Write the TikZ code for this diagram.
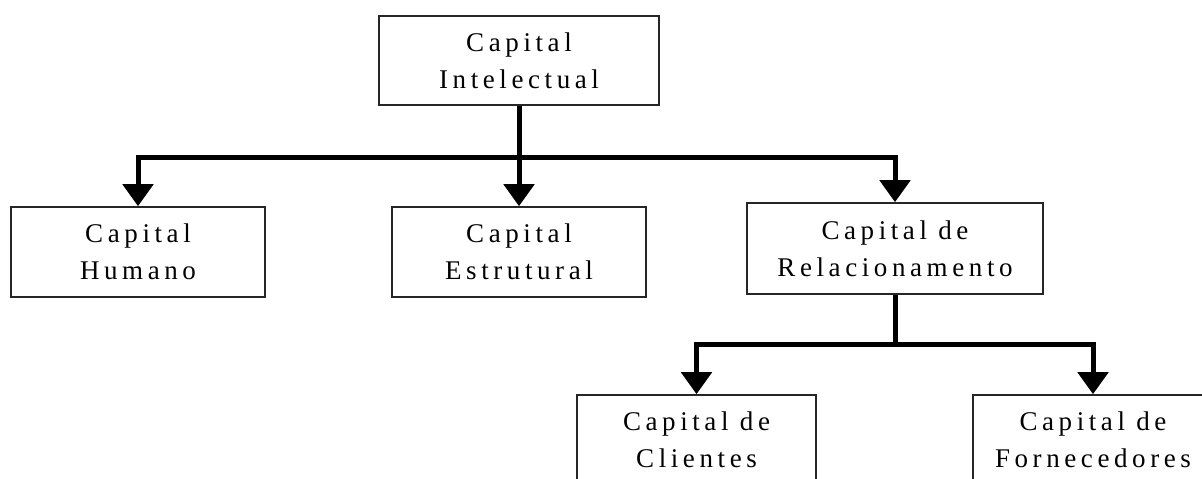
\documentclass[tikz,border=0pt]{standalone}
\usepackage{fontspec}
\setmainfont{Liberation Serif}[LetterSpace=17]
\usetikzlibrary{arrows.meta}
\begin{document}
\begin{tikzpicture}[x=1pt,y=-1pt,
  box/.style={draw=black!85, line width=1.6pt, inner sep=0pt, align=center,
    font=\fontsize{27}{37}\selectfont},
  bus/.style={line width=5pt, line join=miter},
  arr/.style={line width=5pt, line join=miter, -{Triangle[width=30pt,length=22pt]}}]
\useasboundingbox (0,0) rectangle (1202,479);
\clip (0,0) rectangle (1202,479);
\fill[white] (0,0) rectangle (1202,479);
\node[box, minimum width=280pt, minimum height=89pt] (ci) at (519,60.5) {Capital\\Intelectual};
\node[box, minimum width=254pt, minimum height=90pt] (ch) at (138,252) {Capital\\Humano};
\node[box, minimum width=254pt, minimum height=90pt] (ce) at (519,252) {Capital\\Estrutural};
\node[box, minimum width=296pt, minimum height=91pt] (cr) at (895,248.5) {Capital de\\Relacionamento};
\node[box, minimum width=239pt, minimum height=90pt] (cc) at (696.5,440) {Capital de\\Clientes};
\node[box, minimum width=240pt, minimum height=90pt] (cf) at (1093,440) {Capital de\\Fornecedores};
\coordinate (b1) at (519,157);
\coordinate (b2) at (895,344);
\draw[bus] (ci.south) -- (b1);
\draw[arr] (b1) -| (ch.north);
\draw[arr] (b1) -- (ce.north);
\draw[arr] (b1) -| (cr.north);
\draw[bus] (cr.south) -- (b2);
\draw[arr] (b2) -| (cc.north);
\draw[arr] (b2) -| (cf.north);
\end{tikzpicture}
\end{document}
